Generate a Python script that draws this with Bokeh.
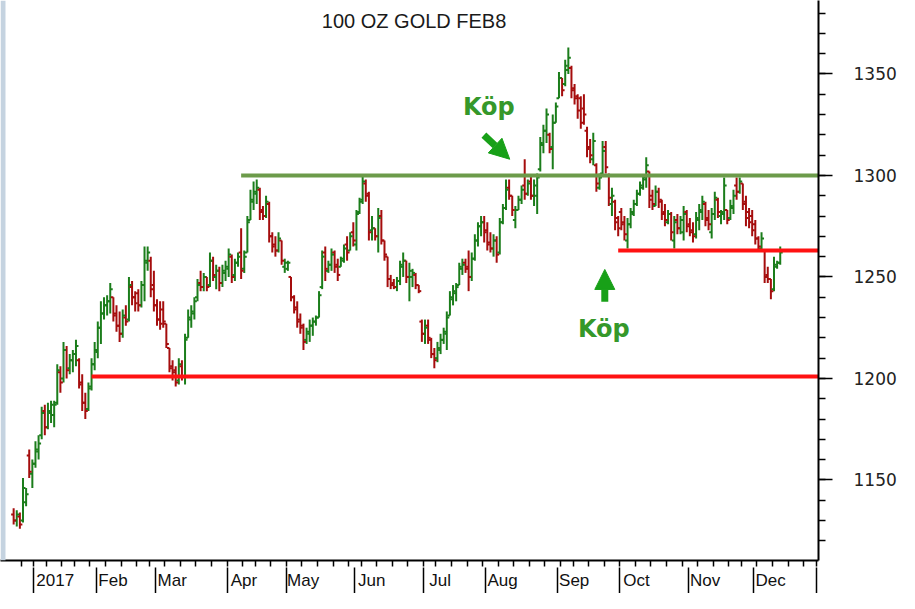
import numpy as np
import pandas as pd
from bokeh.plotting import figure
from bokeh.models import (ColumnDataSource, FixedTicker, LinearAxis, SingleIntervalTicker,
                          Range1d, Arrow, NormalHead, BoxAnnotation)
from bokeh.core.properties import value
from bokeh.embed import file_html
from bokeh.resources import INLINE

# ---------------- data ----------------
TITLE = "100 OZ GOLD FEB8"
FIRST_DAY = "2016-12-21"
LAST_DAY = "2018-01-02"
HOLIDAYS = ["2016-12-26", "2017-01-02", "2017-01-16", "2017-02-20", "2017-04-14",
            "2017-05-29", "2017-07-04", "2017-09-04", "2017-11-23", "2017-12-25",
            "2018-01-01"]
MONTH_LABELS = ["2017", "Feb", "Mar", "Apr", "May", "Jun", "Jul", "Aug", "Sep", "Oct", "Nov", "Dec"]

opens = [1133, 1130, 1132, 1130, 1139, 1162, 1153,
         1158, 1164, 1172, 1184, 1176, 1183, 1182, 1188, 1203, 1200, 1214, 1205, 1209, 1212, 1209, 1198, 1188, 1185, 1196, 1207,
         1213, 1225, 1232, 1236, 1238, 1240, 1232, 1226, 1222, 1230, 1229, 1245, 1240, 1242, 1236, 1246, 1257, 1258, 1246,
         1236, 1229, 1234, 1227, 1215, 1206, 1204, 1199, 1206, 1201, 1220, 1229, 1232, 1240, 1247, 1245, 1250, 1246, 1258, 1250, 1253, 1247, 1252,
         1254, 1260, 1251, 1257, 1262, 1254, 1262, 1278, 1287, 1291, 1293, 1283, 1280, 1286, 1270, 1266, 1263, 1268, 1255,
         1254, 1250, 1240, 1235, 1229, 1226, 1219, 1222, 1226, 1228, 1230, 1245, 1262, 1253, 1256, 1262, 1256, 1255, 1258, 1266, 1263, 1272,
         1266, 1282, 1288, 1296, 1291, 1273, 1274, 1270, 1280, 1268, 1260, 1249, 1247, 1245, 1248, 1255, 1258, 1250, 1250, 1251, 1246, 1228,
         1222, 1226, 1219, 1212, 1210, 1214, 1219, 1222, 1231, 1239, 1242, 1246, 1254, 1257, 1255, 1250, 1259, 1268, 1275, 1277,
         1273, 1267, 1264, 1268, 1262, 1277, 1284, 1294, 1290, 1278, 1283, 1288, 1295, 1291, 1297, 1290, 1290, 1303, 1315, 1322, 1320, 1314, 1326,
         1338, 1348, 1345, 1352, 1353, 1343, 1339, 1338, 1333, 1322, 1314, 1308, 1305, 1294, 1301, 1314, 1300, 1286, 1287, 1279,
         1282, 1277, 1268, 1276, 1281, 1286, 1291, 1294, 1298, 1302, 1290, 1285, 1292, 1288, 1282, 1277, 1281, 1268, 1278, 1274, 1272, 1282,
         1276, 1273, 1271, 1278, 1282, 1286, 1279, 1272, 1281, 1288, 1280, 1281, 1283, 1279, 1284, 1295, 1292, 1296, 1287, 1282, 1280,
         1276, 1269, 1264, 1263, 1251, 1249, 1244, 1255, 1257]
highs = [1136, 1135, 1134, 1151, 1146, 1165, 1160,
         1169, 1172, 1186, 1187, 1188, 1189, 1189, 1207, 1206, 1218, 1216, 1212, 1214, 1219, 1210, 1202, 1193, 1198, 1210, 1218,
         1228, 1238, 1240, 1241, 1247, 1240, 1236, 1233, 1234, 1236, 1250, 1248, 1243, 1244, 1248, 1265, 1265, 1260, 1253,
         1239, 1238, 1238, 1227, 1215, 1209, 1206, 1210, 1209, 1222, 1234, 1236, 1240, 1249, 1253, 1252, 1250, 1262, 1260, 1256, 1255, 1256, 1258,
         1264, 1261, 1259, 1262, 1274, 1263, 1280, 1293, 1297, 1298, 1294, 1285, 1290, 1287, 1272, 1270, 1272, 1268, 1259,
         1258, 1250, 1241, 1238, 1232, 1227, 1225, 1229, 1230, 1231, 1243, 1263, 1265, 1258, 1264, 1263, 1259, 1260, 1266, 1270, 1272, 1277,
         1283, 1289, 1300, 1298, 1292, 1280, 1274, 1284, 1283, 1268, 1260, 1251, 1249, 1250, 1258, 1262, 1258, 1257, 1254, 1252, 1246, 1229,
         1229, 1229, 1220, 1215, 1218, 1222, 1225, 1233, 1243, 1246, 1247, 1257, 1259, 1259, 1263, 1262, 1271, 1277, 1280, 1280,
         1277, 1272, 1271, 1270, 1279, 1286, 1298, 1298, 1290, 1285, 1290, 1295, 1308, 1298, 1300, 1298, 1301, 1319, 1325, 1333, 1321, 1330, 1336,
         1351, 1348, 1357, 1363, 1354, 1345, 1340, 1339, 1340, 1324, 1318, 1321, 1306, 1301, 1317, 1317, 1301, 1294, 1288, 1280,
         1284, 1280, 1279, 1284, 1288, 1293, 1297, 1300, 1309, 1302, 1293, 1295, 1294, 1288, 1286, 1283, 1282, 1280, 1281, 1280, 1285, 1283,
         1279, 1277, 1282, 1286, 1290, 1287, 1283, 1284, 1292, 1289, 1283, 1299, 1283, 1288, 1293, 1299, 1299, 1296, 1290, 1284, 1283,
         1278, 1270, 1272, 1263, 1255, 1249, 1260, 1258, 1265]
lows = [1128, 1127, 1126, 1129, 1137, 1151, 1146,
        1156, 1160, 1170, 1172, 1175, 1178, 1176, 1187, 1193, 1198, 1200, 1202, 1203, 1206, 1195, 1184, 1180, 1184, 1194, 1204,
        1210, 1217, 1229, 1231, 1232, 1228, 1223, 1218, 1220, 1226, 1228, 1236, 1233, 1233, 1235, 1238, 1253, 1240, 1233,
        1226, 1224, 1225, 1215, 1203, 1199, 1196, 1197, 1199, 1197, 1220, 1225, 1229, 1238, 1243, 1243, 1243, 1245, 1248, 1244, 1243, 1245, 1248,
        1250, 1247, 1248, 1255, 1249, 1252, 1262, 1278, 1283, 1286, 1278, 1278, 1279, 1267, 1262, 1260, 1262, 1256, 1252,
        1253, 1238, 1232, 1225, 1222, 1214, 1217, 1218, 1221, 1226, 1230, 1244, 1248, 1252, 1253, 1252, 1248, 1255, 1257, 1258, 1263, 1265,
        1263, 1281, 1286, 1287, 1268, 1268, 1268, 1262, 1266, 1258, 1245, 1244, 1244, 1243, 1246, 1250, 1247, 1238, 1245, 1244, 1242, 1218,
        1217, 1217, 1210, 1205, 1208, 1212, 1217, 1214, 1231, 1236, 1238, 1246, 1251, 1252, 1243, 1248, 1258, 1265, 1270, 1267,
        1263, 1262, 1260, 1257, 1261, 1276, 1283, 1288, 1280, 1274, 1283, 1286, 1288, 1290, 1288, 1285, 1281, 1302, 1311, 1316, 1311, 1303, 1326,
        1338, 1339, 1344, 1350, 1338, 1335, 1328, 1323, 1325, 1309, 1306, 1305, 1292, 1293, 1300, 1301, 1285, 1280, 1273, 1270,
        1273, 1268, 1264, 1274, 1280, 1285, 1290, 1293, 1294, 1284, 1283, 1285, 1284, 1278, 1275, 1276, 1268, 1264, 1271, 1271, 1268, 1272,
        1270, 1267, 1269, 1273, 1278, 1275, 1273, 1269, 1278, 1279, 1276, 1278, 1276, 1278, 1281, 1288, 1291, 1283, 1275, 1274, 1270,
        1266, 1263, 1263, 1247, 1247, 1239, 1243, 1254, 1256]
closes = [1130, 1133, 1128, 1146, 1143, 1154, 1158,
          1165, 1168, 1183, 1176, 1184, 1187, 1187, 1204, 1198, 1214, 1204, 1209, 1212, 1216, 1197, 1188, 1184, 1195, 1207, 1214,
          1225, 1232, 1236, 1238, 1244, 1231, 1226, 1222, 1231, 1228, 1246, 1240, 1237, 1236, 1246, 1258, 1262, 1244, 1236,
          1229, 1227, 1228, 1217, 1205, 1203, 1198, 1207, 1201, 1219, 1230, 1233, 1238, 1246, 1245, 1250, 1245, 1258, 1251, 1253, 1247, 1253, 1255,
          1261, 1250, 1257, 1260, 1253, 1260, 1277, 1288, 1292, 1294, 1282, 1280, 1287, 1270, 1265, 1263, 1269, 1258, 1257,
          1257, 1240, 1234, 1228, 1225, 1218, 1223, 1226, 1228, 1230, 1241, 1260, 1254, 1256, 1261, 1255, 1251, 1259, 1264, 1262, 1270, 1268,
          1281, 1287, 1297, 1290, 1272, 1274, 1270, 1279, 1268, 1261, 1249, 1246, 1245, 1248, 1256, 1258, 1250, 1253, 1252, 1246, 1243, 1222,
          1225, 1220, 1212, 1209, 1215, 1219, 1223, 1230, 1240, 1243, 1245, 1255, 1256, 1254, 1250, 1259, 1268, 1275, 1277, 1272,
          1266, 1264, 1268, 1261, 1277, 1284, 1293, 1290, 1283, 1283, 1288, 1293, 1291, 1296, 1290, 1295, 1299, 1316, 1322, 1330, 1313, 1326, 1334,
          1348, 1342, 1354, 1358, 1342, 1338, 1332, 1326, 1330, 1313, 1310, 1317, 1296, 1299, 1312, 1304, 1289, 1290, 1277, 1274,
          1276, 1271, 1276, 1282, 1286, 1291, 1295, 1299, 1305, 1288, 1286, 1292, 1287, 1281, 1278, 1281, 1272, 1277, 1274, 1278, 1281, 1275,
          1272, 1270, 1279, 1283, 1287, 1278, 1276, 1281, 1289, 1282, 1282, 1295, 1278, 1285, 1290, 1292, 1297, 1286, 1279, 1277, 1273,
          1269, 1265, 1269, 1250, 1249, 1243, 1256, 1257, 1262]

LEVELS = [1300, 1201, 1263]
LEVEL_FROM = ["2017-04-07", "2017-01-30", "2017-09-29"]

# ---------------- styles ----------------
GREEN = "#1b7d1b"
RED = "#a50d0d"
LEVEL_COLORS = ["#6c9b4a", "#ff1212", "#ff1212"]
ANNOT_GREEN = "#35982a"
ARROW_GREEN = "#18a018"
FRAME_BLUE = "#c5d3e0"

# trading-day calendar -> integer positions (Jan 3 2017 = 0)
cal = pd.bdate_range(FIRST_DAY, LAST_DAY)
cal = cal[~cal.isin(pd.to_datetime(HOLIDAYS))]
n_pre = int((cal < pd.Timestamp("2017-01-01")).sum())
pos = np.arange(len(cal)) - n_pre
x = pos[:len(closes)].astype(float)

months = cal.to_period("M")
month_bounds = [float(pos[k]) - 0.5 for k in range(1, len(cal)) if months[k] != months[k - 1]]
weeks = cal.to_period("W")
week_bounds = [float(pos[k]) - 0.5 for k in range(1, len(cal)) if weeks[k] != weeks[k - 1]]

X0, X1 = -11.22, 251.28
Y0, Y1 = 1110.3, 1386.2
PX_PER_DAY = 819 / (X1 - X0)

label_pos = [round(b + (3 + len(lbl) * 4.6) / PX_PER_DAY, 3)
             for b, lbl in zip(month_bounds, MONTH_LABELS)]

p = figure(width=899, height=593, output_backend="svg", toolbar_location=None, tools="",
           x_range=Range1d(X0, X1), y_range=Range1d(Y0, Y1), y_axis_location="right",
           min_border_left=0, min_border_top=0, min_border_right=80, min_border_bottom=26)
p.outline_line_color = None
p.grid.visible = False
p.background_fill_color = "white"
p.border_fill_color = "white"

# bottom axis (labels + weekly ticks)
xa = p.xaxis[0]
xa.ticker = FixedTicker(ticks=label_pos, minor_ticks=week_bounds)
xa.major_label_overrides = {t: l for t, l in zip(label_pos, MONTH_LABELS)}
xa.major_tick_line_color = None
xa.major_tick_in = 0
xa.major_tick_out = 0
xa.minor_tick_in = 0
xa.minor_tick_out = 6
xa.minor_tick_line_color = "black"
xa.minor_tick_line_width = 1.5
xa.axis_line_color = "black"
xa.axis_line_width = 2
xa.major_label_standoff = 4
xa.major_label_text_font = "Liberation Sans"
xa.major_label_text_font_size = "17px"
xa.major_label_text_color = "#111111"

# long month-boundary ticks
xb = LinearAxis(ticker=FixedTicker(ticks=month_bounds, minor_ticks=[]),
                major_label_overrides={b: "" for b in month_bounds},
                major_label_text_font_size="1px", major_label_standoff=0,
                major_tick_in=25, major_tick_out=1, axis_line_color=None,
                minor_tick_line_color=None, major_tick_line_color="black",
                major_tick_line_width=1.5)
p.add_layout(xb, "below")

# right price axis
ya = p.yaxis[0]
ya.ticker = SingleIntervalTicker(interval=50, num_minor_ticks=5)
ya.major_tick_in = 0
ya.major_tick_out = 14
ya.minor_tick_in = 0
ya.minor_tick_out = 7
ya.major_tick_line_width = 1.5
ya.minor_tick_line_width = 1.5
ya.axis_line_width = 2
ya.axis_line_color = "black"
ya.major_tick_line_color = "black"
ya.minor_tick_line_color = "black"
ya.major_label_standoff = 21
ya.major_label_text_font = "DejaVu Sans"
ya.major_label_text_font_size = "17px"
ya.major_label_text_color = "#222222"

# left blue frame strip
p.add_layout(BoxAnnotation(left=X0, right=X0 + 5 / PX_PER_DAY, fill_color=FRAME_BLUE,
                           fill_alpha=1, line_alpha=0))

# OHLC bars
colors = [GREEN if c >= o else RED for o, c in zip(opens, closes)]
src = ColumnDataSource(dict(x=x, xl=x - 0.8, xr=x + 0.8, o=opens, h=highs, l=lows, c=closes, color=colors))
p.segment(x0="x", y0="l", x1="x", y1="h", line_color="color", line_width=2, source=src)
p.segment(x0="xl", y0="o", x1="x", y1="o", line_color="color", line_width=2, source=src)
p.segment(x0="x", y0="c", x1="xr", y1="c", line_color="color", line_width=2, source=src)

# support / resistance levels
lvl_x0 = [float(pos[cal.get_loc(pd.Timestamp(d))]) for d in LEVEL_FROM]
p.segment(x0=lvl_x0, y0=LEVELS, x1=[X1] * len(LEVELS), y1=LEVELS,
          line_color=LEVEL_COLORS, line_width=4)

# title
p.text(x=[121.5], y=[1376.0], text=[TITLE], text_font=value("Liberation Sans"),
       text_font_size="20px", text_color="#1a1a1a", text_align="center", text_baseline="middle")

# annotations
p.text(x=[145.5, 182.4], y=[1333.5, 1224.4], text=["Köp", "Köp"], text_font=value("DejaVu Sans"),
       text_font_style="bold", text_font_size="24px", text_color=ANNOT_GREEN,
       text_align="center", text_baseline="middle")
p.add_layout(Arrow(end=NormalHead(size=20, fill_color=ARROW_GREEN, line_color=ARROW_GREEN),
                   x_start=143.9, y_start=1319.9, x_end=152.2, y_end=1308.0,
                   line_color=ARROW_GREEN, line_width=7))
p.add_layout(Arrow(end=NormalHead(size=20, fill_color=ARROW_GREEN, line_color=ARROW_GREEN),
                   x_start=182.7, y_start=1237.8, x_end=182.7, y_end=1253.7,
                   line_color=ARROW_GREEN, line_width=7))

with open("out.html", "w", encoding="utf-8") as f:
    f.write(file_html(p, INLINE, title=TITLE))
